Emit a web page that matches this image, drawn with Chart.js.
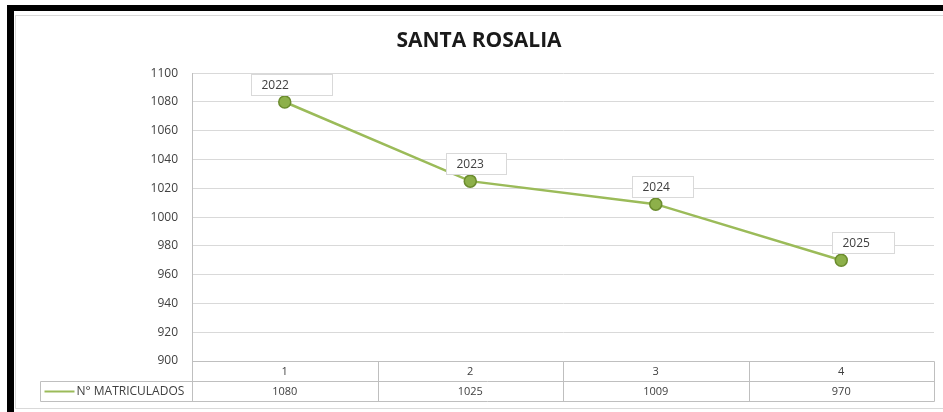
<!DOCTYPE html>
<html lang="es">
<head>
    <meta charset="UTF-8">
    <title>Santa Rosalia</title>
    <script src="https://cdn.jsdelivr.net/npm/chart.js"></script>
    <style>
        body { margin: 0; background: #fff; }
        #frame {
            position: absolute; left: 7px; top: 5px; width: 929px; height: 407px;
            border-left: 7px solid #000; border-top: 6px solid #000;
        }
        #inner {
            position: absolute; left: 1px; top: 4px; right: 0; height: 392px;
            border-left: 1px solid #d9d9d9; border-top: 1px solid #d9d9d9; border-bottom: 1px solid #d9d9d9;
        }
        canvas { position: absolute; left: 0; top: 0; }
    </style>
</head>
<body>
<div id="frame"><div id="inner"><canvas id="chart" width="928" height="392"></canvas></div></div>

<script>
    // chart data
    const categories = ['1', '2', '3', '4'];
    const years = ['2022', '2023', '2024', '2025'];
    const matriculados = [1080, 1025, 1009, 970];
    const seriesName = 'N° MATRICULADOS';
    const yMin = 900, yMax = 1100, yStep = 20;

    const green = '#9bbb59';
    const gridColor = '#d9d9d9';
    const tableColor = '#bfbfbf';
    const textColor = '#404040';
    const fontFamily = '"Open Sans", "Liberation Sans", sans-serif';

    // data label boxes (manually placed in the original, offsets from the point)
    const labelBoxes = [
        { dx: -34, w: 81 },
        { dx: -24, w: 60 },
        { dx: -24, w: 61 },
        { dx: -9, w: 62 }
    ];

    const labelPlugin = {
        id: 'yearLabels',
        afterDatasetsDraw(chart) {
            const ctx = chart.ctx;
            const meta = chart.getDatasetMeta(0);
            ctx.save();
            ctx.font = '12px ' + fontFamily;
            ctx.textBaseline = 'middle';
            ctx.textAlign = 'left';
            meta.data.forEach((pt, i) => {
                const b = labelBoxes[i];
                const bx = Math.round(pt.x + b.dx) + 0.5;
                const by = Math.round(pt.y - 28) + 0.5;
                ctx.fillStyle = '#fff';
                ctx.fillRect(bx, by, b.w, 21);
                ctx.strokeStyle = gridColor;
                ctx.lineWidth = 1;
                ctx.strokeRect(bx, by, b.w, 21);
                ctx.fillStyle = textColor;
                ctx.fillText(years[i], bx + 10, by + 11);
            });
            ctx.restore();
        }
    };

    const tablePlugin = {
        id: 'dataTable',
        afterDraw(chart) {
            const ctx = chart.ctx;
            const area = chart.chartArea;
            const xs = chart.scales.x;
            const colW = (area.right - area.left) / categories.length;
            const rowH = 20;
            const top = Math.round(area.bottom) + 0.5;
            const mid = top + rowH;
            const bot = mid + rowH;
            const legendLeft = 24.5;
            const left = Math.round(area.left) + 0.5;
            const right = Math.round(area.right) + 0.5;

            ctx.save();
            ctx.strokeStyle = tableColor;
            ctx.lineWidth = 1;
            ctx.beginPath();
            ctx.moveTo(left, top); ctx.lineTo(right, top);
            ctx.moveTo(legendLeft, mid); ctx.lineTo(right, mid);
            ctx.moveTo(legendLeft, bot); ctx.lineTo(right, bot);
            ctx.moveTo(legendLeft, mid); ctx.lineTo(legendLeft, bot);
            for (let i = 0; i <= categories.length; i++) {
                const x = Math.round(area.left + i * colW) + 0.5;
                ctx.moveTo(x, top); ctx.lineTo(x, bot);
            }
            ctx.stroke();

            ctx.font = '11px ' + fontFamily;
            ctx.fillStyle = textColor;
            ctx.textAlign = 'center';
            ctx.textBaseline = 'middle';
            categories.forEach((c, i) => {
                const cx = xs.getPixelForValue(i);
                ctx.fillText(c, cx, top + rowH / 2);
                ctx.fillText(String(matriculados[i]), cx, mid + rowH / 2);
            });

            // legend key
            ctx.strokeStyle = green;
            ctx.lineWidth = 2;
            ctx.beginPath();
            ctx.moveTo(legendLeft + 4, mid + rowH / 2);
            ctx.lineTo(legendLeft + 34, mid + rowH / 2);
            ctx.stroke();
            ctx.font = '12px ' + fontFamily;
            ctx.textAlign = 'left';
            ctx.fillText(seriesName, legendLeft + 36, mid + rowH / 2);
            ctx.restore();
        }
    };

    const ctx = document.getElementById('chart').getContext('2d');
    new Chart(ctx, {
        type: 'line',
        data: {
            labels: categories,
            datasets: [{
                label: seriesName,
                data: matriculados,
                borderColor: green,
                borderWidth: 2.5,
                pointRadius: 6,
                pointBackgroundColor: '#8db04a',
                pointBorderColor: '#6b8c2e',
                pointBorderWidth: 1.5,
                tension: 0
            }]
        },
        options: {
            responsive: false,
            animation: false,
            devicePixelRatio: 1,
            layout: { padding: { left: 8, right: 10, top: 0, bottom: 47 } },
            plugins: {
                legend: { display: false },
                tooltip: { enabled: false },
                title: {
                    display: true,
                    text: 'SANTA ROSALIA',
                    color: '#1a1a1a',
                    font: { family: fontFamily, size: 21, weight: 'bold' },
                    padding: { top: 12, bottom: 20 }
                }
            },
            scales: {
                x: {
                    display: false,
                    offset: true
                },
                y: {
                    min: yMin,
                    max: yMax,
                    afterFit(scale) { scale.width = 168; },
                    ticks: {
                        stepSize: yStep,
                        color: textColor,
                        padding: 14,
                        font: { family: fontFamily, size: 12 },
                        callback: (v) => String(v)
                    },
                    grid: { color: gridColor, drawTicks: false },
                    border: { color: tableColor }
                }
            }
        },
        plugins: [labelPlugin, tablePlugin]
    });
</script>

</body>
</html>
